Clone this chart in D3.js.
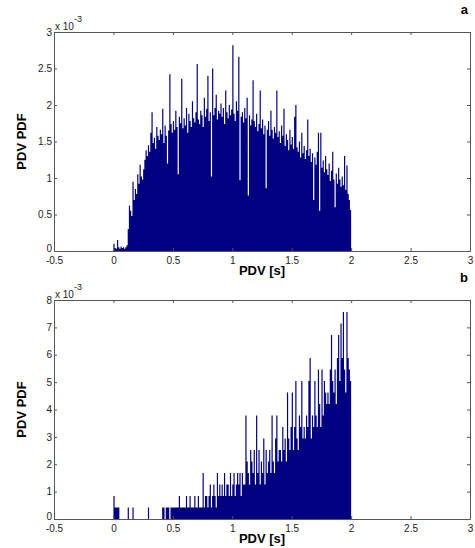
<!DOCTYPE html>
<html>
<head>
<meta charset="utf-8">
<script src="https://cdn.jsdelivr.net/npm/d3@7"></script>
<style>
  html, body { margin: 0; padding: 0; background: #fff; }
  text { font-family: "Liberation Sans", Arial, sans-serif; }
</style>
</head>
<body>
<div id="chart"></div>
<script>
// Histogram bins: 0.01 s wide, starting at 0 s
const binStart = 0;
const binWidth = 0.01;

// Panel a: PDV PDF values (x 10^-3), one per bin from 0 to 2 s
const pdfA = [
  0.10, 0.04, 0.03, 0.15, 0.05, 0.03, 0.06, 0.04, 0.05, 0.03,
  0.05, 0.08, 0.30, 0.62, 0.55, 0.48, 0.95, 0.70, 0.85, 0.78,
  1.05, 0.92, 1.18, 1.02, 0.98, 1.12, 1.25, 1.38, 1.30, 1.45,
  1.36, 1.62, 1.90, 1.48, 1.55, 1.40, 1.70, 1.58, 1.52, 1.66,
  1.60, 1.95, 1.48, 1.72, 1.58, 1.20, 1.65, 2.42, 1.74, 1.62,
  1.78, 1.66, 1.92, 1.70, 1.05, 1.84, 1.75, 2.36, 1.68, 1.82,
  1.72, 1.96, 1.62, 1.88, 1.78, 1.70, 2.05, 1.82, 1.76, 1.90,
  2.56, 1.80, 1.74, 1.92, 1.86, 1.70, 2.10, 1.84, 1.95, 2.40,
  1.78, 1.90, 1.02, 2.50, 1.86, 1.96, 2.14, 1.80, 1.92, 1.88,
  2.02, 1.84, 1.96, 1.74, 2.20, 1.90, 1.82, 2.00, 1.86, 1.94,
  2.82, 1.88, 1.78, 2.05, 1.92, 2.66, 0.97, 1.84, 1.90, 1.76,
  1.96, 1.82, 2.10, 0.76, 1.86, 1.72, 1.80, 2.34, 1.78, 1.70,
  1.88, 1.64, 1.74, 2.20, 1.68, 1.80, 1.60, 1.72, 0.86, 1.66,
  1.78, 1.58, 1.92, 1.66, 1.54, 1.70, 1.62, 2.20, 1.56, 1.64,
  1.48, 1.72, 1.58, 1.95, 1.44, 1.60, 1.52, 1.38, 1.66, 1.46,
  1.56, 1.40, 1.84, 2.00, 1.42, 1.36, 1.50, 1.28, 1.62, 1.34,
  1.44, 1.26, 1.38, 1.80, 1.30, 1.40, 1.22, 1.34, 0.70, 1.28,
  1.18, 1.36, 1.62, 0.55, 1.62, 1.14, 1.24, 1.08, 1.30, 1.12,
  1.04, 1.20, 0.96, 1.10, 1.36, 0.98, 0.60, 1.06, 0.92, 1.14,
  0.98, 0.88, 1.02, 0.90, 1.30, 0.84, 1.17, 0.78, 0.70, 0.56
];

// Panel b: sample counts per bin, one count = 0.42 x 10^-3 of PDF
const countUnitB = 0.42;
const countsB = [
  2, 1, 1, 1, 1, 0, 0, 0, 0, 0,
  0, 0, 1, 0, 0, 0, 1, 0, 0, 0,
  0, 0, 0, 0, 0, 0, 0, 0, 0, 1,
  0, 0, 0, 0, 0, 0, 0, 0, 0, 0,
  0, 1, 1, 0, 1, 1, 1, 0, 1, 1,
  1, 1, 1, 1, 1, 2, 1, 1, 1, 1,
  1, 2, 1, 1, 2, 1, 1, 1, 2, 1,
  1, 2, 1, 1, 1, 4, 1, 2, 2, 1,
  2, 3, 1, 2, 3, 2, 1, 4, 2, 3,
  2, 3, 2, 4, 2, 3, 3, 2, 4, 2,
  3, 4, 2, 3, 4, 3, 4, 2, 4, 3,
  3, 9, 5, 4, 3, 6, 5, 4, 6, 3,
  9, 4, 6, 3, 5, 4, 7, 3, 6, 4,
  5, 6, 4, 9, 5, 4, 7, 9, 5, 6,
  6, 5, 8, 6, 7, 5, 11, 7, 6, 8,
  11, 6, 8, 12, 7, 6, 9, 8, 12, 7,
  8, 7, 9, 8, 12, 14, 7, 9, 8, 12,
  9, 8, 13, 10, 8, 13, 9, 12, 11, 10,
  11, 10, 13, 16, 12, 11, 13, 10, 14, 16,
  12, 17, 14, 18, 13, 11, 18, 14, 13, 12
];

// Tick values
const xTicks = [-0.5, 0, 0.5, 1, 1.5, 2, 2.5, 3];
const yTicksA = [0, 0.5, 1, 1.5, 2, 2.5, 3];
const yTicksB = [0, 1, 2, 3, 4, 5, 6, 7, 8];

const totalWidth = 475;
const totalHeight = 548;
const barColor = '#000080';
const axisColor = '#555555';

const svg = d3.select('#chart')
  .append('svg')
  .attr('width', totalWidth)
  .attr('height', totalHeight);

// x scale shared by both panels
const x = d3.scaleLinear().domain([-0.5, 3]).range([54, 470]);

function drawPanel(values, yMax, yTicks, top, bottom, letter) {
  const y = d3.scaleLinear().domain([0, yMax]).range([bottom, top]);
  const g = svg.append('g');

  // Histogram drawn as one stepped area so the bins join without seams
  const bins = values.map((v, i) => ({ x0: binStart + i * binWidth, v: v }));
  bins.push({ x0: binStart + values.length * binWidth, v: values[values.length - 1] });

  const area = d3.area()
    .x(d => x(d.x0))
    .y0(y(0))
    .y1(d => y(d.v))
    .curve(d3.curveStepAfter);

  g.append('path')
    .datum(bins)
    .attr('d', area)
    .attr('fill', barColor);

  // Axes, MATLAB-like box with inward ticks
  const fmt = d => String(d);
  const bottomAxis = g.append('g')
    .attr('transform', `translate(0, ${bottom})`)
    .call(d3.axisBottom(x).tickValues(xTicks).tickFormat(fmt).tickSize(-3).tickSizeOuter(0).tickPadding(6));
  const topAxis = g.append('g')
    .attr('transform', `translate(0, ${top})`)
    .call(d3.axisTop(x).tickValues(xTicks).tickFormat('').tickSize(-3).tickSizeOuter(0));
  const leftAxis = g.append('g')
    .attr('transform', `translate(${x.range()[0]}, 0)`)
    .call(d3.axisLeft(y).tickValues(yTicks).tickFormat(fmt).tickSize(-3).tickSizeOuter(0).tickPadding(2));
  const rightAxis = g.append('g')
    .attr('transform', `translate(${x.range()[1]}, 0)`)
    .call(d3.axisRight(y).tickValues(yTicks).tickFormat('').tickSize(-3).tickSizeOuter(0));

  [bottomAxis, topAxis, leftAxis, rightAxis].forEach(ax => {
    ax.selectAll('path, line').attr('stroke', axisColor);
    ax.selectAll('text')
      .attr('fill', '#222')
      .style('font-size', '10px')
      .style('font-family', '"Liberation Sans", Arial, sans-serif');
  });

  // Lift the y "0" label a little so it clears the "-0.5" below it
  leftAxis.selectAll('.tick text').filter(d => d === 0).attr('dy', '0.05em');

  // Exponent label at top of y-axis
  const expo = g.append('text')
    .attr('x', x.range()[0] + 1)
    .attr('y', top - 2)
    .attr('fill', '#222')
    .style('font-size', '10px');
  expo.append('tspan').text('x 10');
  expo.append('tspan').attr('dy', -8).style('font-size', '9px').text('-3');

  // Axis titles
  g.append('text')
    .attr('x', (x.range()[0] + x.range()[1]) / 2)
    .attr('y', bottom + 24)
    .attr('text-anchor', 'middle')
    .style('font-size', '13px')
    .style('font-weight', 'bold')
    .text('PDV [s]');

  g.append('text')
    .attr('transform', `translate(26, ${(top + bottom) / 2}) rotate(-90)`)
    .attr('text-anchor', 'middle')
    .style('font-size', '13px')
    .style('font-weight', 'bold')
    .text('PDV PDF');

  // Panel letter
  g.append('text')
    .attr('x', 468)
    .attr('y', top - 18)
    .attr('text-anchor', 'end')
    .style('font-size', '13px')
    .style('font-weight', 'bold')
    .text(letter);
}

drawPanel(pdfA, 3, yTicksA, 32, 251, 'a');
drawPanel(countsB.map(c => c * countUnitB), 8, yTicksB, 300, 519, 'b');
</script>
</body>
</html>
